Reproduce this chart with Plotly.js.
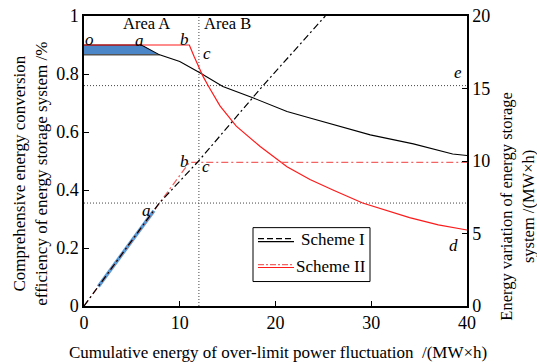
<!DOCTYPE html>
<html>
<head>
<meta charset="utf-8">
<script src="https://cdn.plot.ly/plotly-3.0.1.min.js"></script>
<style>html,body{margin:0;padding:0;background:#fff;}#chart{width:537px;height:364px;}</style>
</head>
<body>
<div id="chart"></div>
<script>
// ---- data ----
// Scheme I efficiency (left axis)
const xEffI  = [0, 6, 7.9, 10, 12.1, 14.5, 17.7, 21.2, 23.6, 26.7, 29.9, 34.4, 38.5, 40];
const effI   = [0.9, 0.9, 0.866, 0.843, 0.804, 0.757, 0.717, 0.671, 0.648, 0.619, 0.59, 0.559, 0.524, 0.519];
// Scheme II efficiency (left axis)
const xEffII = [0, 11, 11.5, 12.46, 13, 14.2, 15.9, 18.4, 21.2, 23.6, 26, 29.1, 34, 37, 40];
const effII  = [0.9, 0.9, 0.86, 0.79, 0.758, 0.69, 0.62, 0.55, 0.48, 0.436, 0.4, 0.355, 0.305, 0.28, 0.262];
// Scheme I energy variation (right axis)
const xEnI   = [0, 7.8, 11.9, 18.7, 25.2];
const enI    = [0, 7.05, 9.95, 15.2, 20];
// Scheme II energy variation (right axis)
const xEnII  = [0, 11, 40];
const enII   = [0, 9.9, 9.9];
// highlighted (blue) segment of the energy line, area A
const xBlue  = [1.5, 7.3];
const enBlue = [1.35, 6.57];
// reference levels
const effLow = 0.866;     // lower edge of blue region
const xBoundary = 12;     // Area A / Area B boundary
const levelE = 15.2;      // dotted level e (right axis)
const levelA = 7.1;       // dotted level a (right axis)
const xTicks = [0, 10, 20, 30, 40];
const yTicksL = [0, 0.2, 0.4, 0.6, 0.8, 1];
const yTicksR = [0, 5, 10, 15, 20];

// ---- geometry helpers (pixel -> paper) ----
const L = 84, R = 467, T = 16, B = 306.5;
const W = R - L, H = B - T;
const px = v => (v - L) / W;
const py = v => (B - v) / H;

const FONT = 'Liberation Serif';
const red = '#ff1a1a', redDD = '#f26464';

// blue region polygon: efficiency of scheme I above effLow within area A
const nFill = 3;
const fillX = xEffI.slice(0, nFill).concat([0]);
const fillY = effI.slice(0, nFill).concat([effLow]);

const traces = [
  {x: fillX, y: fillY, fill: 'toself', fillcolor: '#4a86c8', mode: 'lines',
   line: {color: 'rgba(0,0,0,0)', width: 0}, showlegend: false, hoverinfo: 'skip'},
  {x: [0, xEffI[nFill-1]], y: [effLow, effLow], mode: 'lines',
   line: {color: '#555', width: 1.5}, showlegend: false},
  {x: xBlue, y: enBlue, yaxis: 'y2', mode: 'lines',
   line: {color: '#5b9bd5', width: 3.5}, showlegend: false},
  {x: xEnII, y: enII, yaxis: 'y2', mode: 'lines',
   line: {color: redDD, width: 1.3, dash: '7px,3px,2px,3px'}, showlegend: false},
  {x: xEnI, y: enI, yaxis: 'y2', mode: 'lines',
   line: {color: '#000', width: 1.2, dash: '7px,3px,2px,3px'}, showlegend: false},
  {x: xEffI, y: effI, mode: 'lines', line: {color: '#000', width: 1.1}, showlegend: false},
  {x: xEffII, y: effII, mode: 'lines', line: {color: red, width: 1.2}, showlegend: false}
];

const dotted = {color: '#444', width: 1, dash: '1px,2px'};
const shapes = [
  {type: 'line', xref: 'x', yref: 'paper', x0: xBoundary, x1: xBoundary, y0: 0, y1: 1, line: dotted, layer: 'below'},
  {type: 'line', xref: 'paper', yref: 'y2', x0: 0, x1: 1, y0: levelE, y1: levelE, line: dotted, layer: 'below'},
  {type: 'line', xref: 'paper', yref: 'y2', x0: 0, x1: 1, y0: levelA, y1: levelA, line: dotted, layer: 'below'},
  // legend box
  {type: 'rect', xref: 'paper', yref: 'paper', x0: px(253), x1: px(370), y0: py(282), y1: py(228),
   line: {color: '#000', width: 1}, fillcolor: '#fff', layer: 'above'},
  {type: 'line', xref: 'paper', yref: 'paper', x0: px(258), x1: px(294), y0: py(239), y1: py(239),
   line: {color: '#000', width: 1.2, dash: '6px,3px'}, layer: 'above'},
  {type: 'line', xref: 'paper', yref: 'paper', x0: px(258), x1: px(294), y0: py(242), y1: py(242),
   line: {color: '#000', width: 1.1}, layer: 'above'},
  {type: 'line', xref: 'paper', yref: 'paper', x0: px(258), x1: px(294), y0: py(265), y1: py(265),
   line: {color: redDD, width: 1.2, dash: '6px,2px,2px,2px'}, layer: 'above'},
  {type: 'line', xref: 'paper', yref: 'paper', x0: px(258), x1: px(294), y0: py(268), y1: py(268),
   line: {color: red, width: 1.1}, layer: 'above'}
];

function lab(text, x, y, opts) {
  return Object.assign({text: text, xref: 'paper', yref: 'paper', x: px(x), y: py(y),
    xanchor: 'center', yanchor: 'middle', showarrow: false, borderpad: 0,
    font: {family: FONT, size: 17}}, opts || {});
}
const it = s => '<i>' + s + '</i>';

const annotations = [
  lab('Area A', 146, 24, {font: {family: FONT, size: 16.5}}),
  lab('Area B', 227, 24, {font: {family: FONT, size: 16.5}}),
  lab(it('o'), 89, 40),
  lab(it('a'), 139, 41),
  lab(it('b'), 184, 40),
  lab(it('c'), 207, 54),
  lab(it('b'), 184, 162),
  lab(it('c'), 206, 167),
  lab(it('a'), 146, 211),
  lab(it('e'), 458, 73),
  lab(it('d'), 453, 246),
  lab('Scheme I', 300, 240, {xanchor: 'left'}),
  lab('Scheme II', 295, 267, {xanchor: 'left'}),
  lab('Cumulative energy of over-limit power fluctuation \u00a0/(MW×h)', 278, 353, {font: {family: FONT, size: 17}}),
  lab('Comprehensive energy conversion<br>efficiency of energy storage system /%', 31, 174,
      {textangle: -90, font: {family: FONT, size: 17}}),
  lab('Energy variation of energy storage<br>system /(MW×h)', 517, 207,
      {textangle: -90, font: {family: FONT, size: 16.5}})
];

const axCommon = {
  showgrid: false, zeroline: false, showline: true, linecolor: '#000', linewidth: 1.5,
  ticks: 'inside', ticklen: 5, tickwidth: 1, tickcolor: '#000',
  tickfont: {family: FONT, size: 18}, fixedrange: true
};

const layout = {
  width: 537, height: 364,
  margin: {l: L, r: 537 - R, t: T, b: 364 - B, pad: 0},
  paper_bgcolor: '#fff', plot_bgcolor: '#fff',
  font: {family: FONT, color: '#000'},
  showlegend: false,
  xaxis: Object.assign({}, axCommon, {range: [0, 40], tickvals: xTicks, mirror: true}),
  yaxis: Object.assign({}, axCommon, {range: [0, 1], tickvals: yTicksL, ticktext: yTicksL.map(String)}),
  yaxis2: Object.assign({}, axCommon, {range: [0, 20], tickvals: yTicksR, overlaying: 'y', side: 'right'}),
  shapes: shapes,
  annotations: annotations
};

Plotly.newPlot('chart', traces, layout, {displayModeBar: false});
</script>
</body>
</html>
